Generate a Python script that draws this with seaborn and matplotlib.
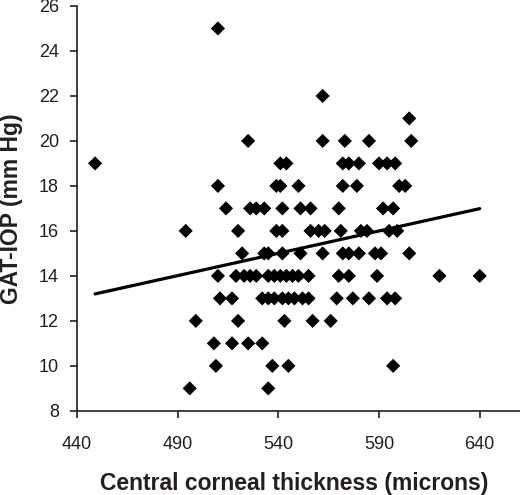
import matplotlib
matplotlib.use("Agg")
import matplotlib.pyplot as plt
import seaborn as sns
import pandas as pd

# ====================== DATA ======================
# central corneal thickness (microns), grouped by GAT-IOP row
cct = [
    510,                                                    # 25
    562,                                                    # 22
    605,                                                    # 21
    525, 562, 573, 585, 606,                                # 20
    449, 541, 544, 572, 575, 580, 590, 594, 598,            # 19
    510, 539, 541, 550, 572, 579, 600, 603,                 # 18
    514, 526, 529, 533, 542, 551, 556, 570, 592, 597,       # 17
    494, 520, 539, 542, 556, 560, 563, 571, 581, 584, 595, 599,   # 16
    522, 533, 535, 542, 551, 562, 572, 575, 580, 588, 591, 605,   # 15
    510, 519, 523, 526, 529, 535, 538, 541, 544, 547, 550, 555,
    570, 575, 589, 620, 640,                                # 14
    511, 517, 532, 535, 538, 542, 545, 548, 552, 555, 569, 577,
    585, 594, 598,                                          # 13
    499, 520, 543, 557, 566,                                # 12
    508, 517, 525, 532,                                     # 11
    509, 537, 545, 597,                                     # 10
    496, 535,                                               # 9
]
iop_rows = [25, 22, 21, 20, 19, 18, 17, 16, 15, 14, 13, 12, 11, 10, 9]
row_counts = [1, 1, 1, 5, 9, 8, 10, 12, 12, 17, 15, 5, 4, 4, 2]
iop = [v for v, n in zip(iop_rows, row_counts) for _ in range(n)]

df = pd.DataFrame({"cct": cct, "iop": iop})

x_ticks = [440, 490, 540, 590, 640]
y_ticks = [8, 10, 12, 14, 16, 18, 20, 22, 24, 26]

# ====================== STYLE ======================
sns.set_style("ticks")
plt.rcParams["font.family"] = ["Liberation Sans", "DejaVu Sans"]
ink = "#231f20"

fig = plt.figure(figsize=(5.2, 4.95), dpi=100)
ax = fig.add_axes([0.148, 0.170, 0.852, 0.818])

sns.scatterplot(data=df, x="cct", y="iop", marker="D", s=52,
                color="black", edgecolor="none", ax=ax)
sns.regplot(data=df, x="cct", y="iop", scatter=False, ci=None,
            truncate=True, color="black", line_kws={"linewidth": 2.3}, ax=ax)

ax.set_xlim(440, 660)
ax.set_ylim(8, 26)
ax.set_xticks(x_ticks)
ax.set_yticks(y_ticks)
sns.despine(ax=ax)
for side in ["left", "bottom"]:
    ax.spines[side].set_color(ink)
    ax.spines[side].set_linewidth(1.2)
ax.spines["left"].set_bounds(8, 26)

ax.tick_params(axis="both", direction="out", length=5, width=1.2,
               color=ink, labelcolor=ink, labelsize=13)
ax.tick_params(axis="x", pad=13)
ax.tick_params(axis="y", pad=8)

ax.set_xlabel("Central corneal thickness (microns)", fontsize=16.5,
              fontweight="bold", color=ink)
ax.set_ylabel("GAT-IOP (mm Hg)", fontsize=16.5, fontweight="bold",
              color=ink)
ax.xaxis.set_label_coords(0.49, -0.152)
ax.yaxis.set_label_coords(-0.122, 0.5)

fig.savefig("out.png", dpi=100)
plt.close(fig)
